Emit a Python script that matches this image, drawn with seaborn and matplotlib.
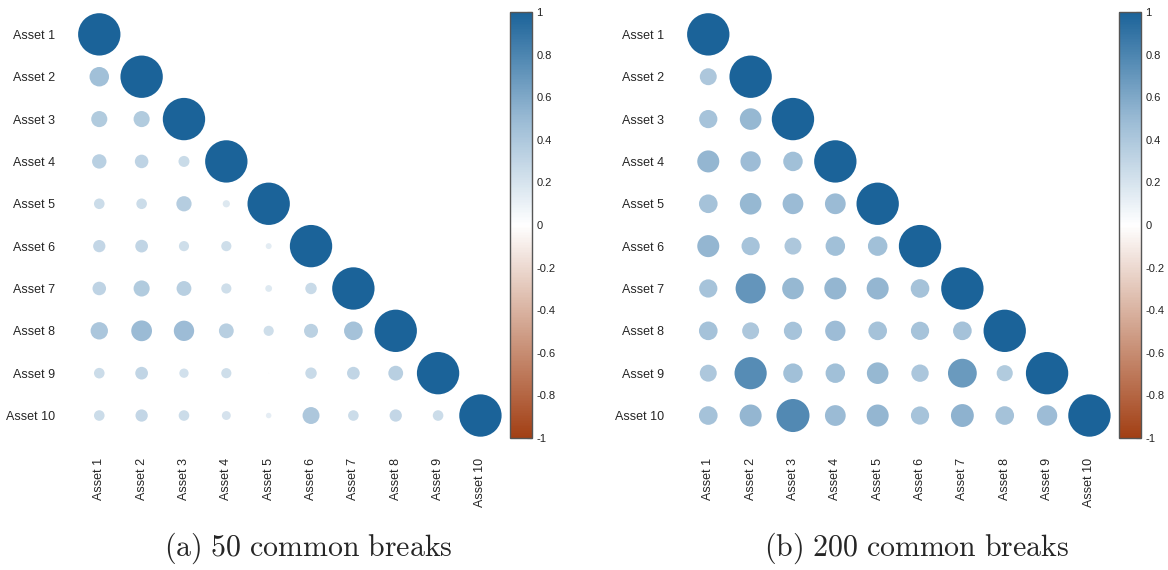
import numpy as np
import pandas as pd
import matplotlib
matplotlib.use("Agg")
import matplotlib.pyplot as plt
import seaborn as sns
from matplotlib.colors import LinearSegmentedColormap, Normalize
from matplotlib.cm import ScalarMappable

# ---------------- data ----------------
assets = ["Asset 1", "Asset 2", "Asset 3", "Asset 4", "Asset 5",
          "Asset 6", "Asset 7", "Asset 8", "Asset 9", "Asset 10"]

# lower triangle (rows 2..10), diagonal is 1
corr_50 = [
    [0.46],
    [0.38, 0.38],
    [0.34, 0.32, 0.26],
    [0.25, 0.25, 0.36, 0.17],
    [0.29, 0.30, 0.24, 0.24, 0.14],
    [0.32, 0.38, 0.35, 0.24, 0.16, 0.27],
    [0.41, 0.49, 0.48, 0.35, 0.24, 0.33, 0.44],
    [0.25, 0.30, 0.22, 0.24, 0.02, 0.27, 0.30, 0.35],
    [0.25, 0.29, 0.25, 0.21, 0.13, 0.40, 0.25, 0.29, 0.25],
]
corr_200 = [
    [0.40],
    [0.43, 0.51],
    [0.52, 0.48, 0.46],
    [0.44, 0.51, 0.49, 0.49],
    [0.52, 0.43, 0.40, 0.46, 0.46],
    [0.43, 0.71, 0.51, 0.52, 0.52, 0.44],
    [0.44, 0.40, 0.43, 0.48, 0.44, 0.43, 0.44],
    [0.40, 0.76, 0.46, 0.46, 0.51, 0.41, 0.68, 0.38],
    [0.44, 0.52, 0.78, 0.49, 0.52, 0.43, 0.54, 0.44, 0.48],
]
captions = ["(a) 50 common breaks", "(b) 200 common breaks"]
cbar_ticks = [1, 0.8, 0.6, 0.4, 0.2, 0, -0.2, -0.4, -0.6, -0.8, -1]
cbar_labels = ["1", "0.8", "0.6", "0.4", "0.2", "0", "-0.2", "-0.4", "-0.6", "-0.8", "-1"]


def to_frame(lower):
    recs = []
    n = len(assets)
    for i in range(n):
        for j in range(i + 1):
            v = 1.0 if i == j else lower[i - 1][j]
            recs.append({"row": i, "col": j, "value": v})
    df = pd.DataFrame(recs)
    df["area"] = df["value"] ** 2
    return df


# ---------------- style ----------------
sns.set_style("white")
plt.rcParams["font.family"] = ["Liberation Sans", "DejaVu Sans"]
plt.rcParams["mathtext.fontset"] = "cm"
plt.rcParams["axes.unicode_minus"] = False

cmap = LinearSegmentedColormap.from_list(
    "corr", [(0.0, "#A23F14"), (0.25, "#D0A08A"), (0.5, "#FFFFFF"),
             (0.75, "#99BAD4"), (1.0, "#1B6399")])
norm = Normalize(-1, 1)

W, H, DPI = 11.68, 5.70, 100
fig = plt.figure(figsize=(W, H), dpi=DPI)

cell_px = 42.35
ax_w = cell_px * 10
panels = [
    dict(data=corr_50, ax_left=78.1, cb_left=510.0),
    dict(data=corr_200, ax_left=687.1, cb_left=1119.0),
]
ax_top = 13.2
cb_top, cb_bot = 12.0, 438.0
cb_w = 22.0

cell_pt = cell_px * 72.0 / DPI
smax = cell_pt ** 2

for k, p in enumerate(panels):
    df = to_frame(p["data"])
    ax = fig.add_axes([p["ax_left"] / (W * DPI),
                       1 - (ax_top + ax_w) / (H * DPI),
                       ax_w / (W * DPI), ax_w / (H * DPI)])
    sns.scatterplot(data=df, x="col", y="row", hue="value", size="area",
                    palette=cmap, hue_norm=norm, sizes=(0, smax),
                    size_norm=(0, 1), linewidth=0, legend=False, ax=ax,
                    marker="o")
    ax.set_xlim(-0.5, 9.5)
    ax.set_ylim(9.5, -0.5)
    ax.set_xticks(range(10))
    ax.set_yticks(range(10))
    ax.set_xticklabels(assets, rotation=90, va="top", ha="center", fontsize=9)
    ax.set_yticklabels(assets, fontsize=9)
    ax.tick_params(length=0, axis="x", pad=15.5)
    ax.tick_params(length=0, axis="y", pad=16.5)
    ax.set_xlabel("")
    ax.set_ylabel("")
    for s in ax.spines.values():
        s.set_visible(False)

    cax = fig.add_axes([p["cb_left"] / (W * DPI),
                        1 - cb_bot / (H * DPI),
                        cb_w / (W * DPI), (cb_bot - cb_top) / (H * DPI)])
    sm = ScalarMappable(norm=norm, cmap=cmap)
    cb = fig.colorbar(sm, cax=cax, ticks=cbar_ticks)
    cb.ax.set_yticklabels(cbar_labels)
    cb.ax.tick_params(direction="in", length=3.5, width=0.8, labelsize=8,
                      colors="#333333", pad=3, labelcolor="#222222")
    cb.outline.set_edgecolor("#555555")
    cb.outline.set_linewidth(1.0)

    cx = (p["ax_left"] + ax_w / 2 + 18) / (W * DPI)
    fig.text(cx, 1 - 548 / (H * DPI),
             r"$\mathrm{" + captions[k].replace(" ", r"\ ") + "}$",
             ha="center", va="center", fontsize=21.5)

fig.savefig("out.png", dpi=DPI)
